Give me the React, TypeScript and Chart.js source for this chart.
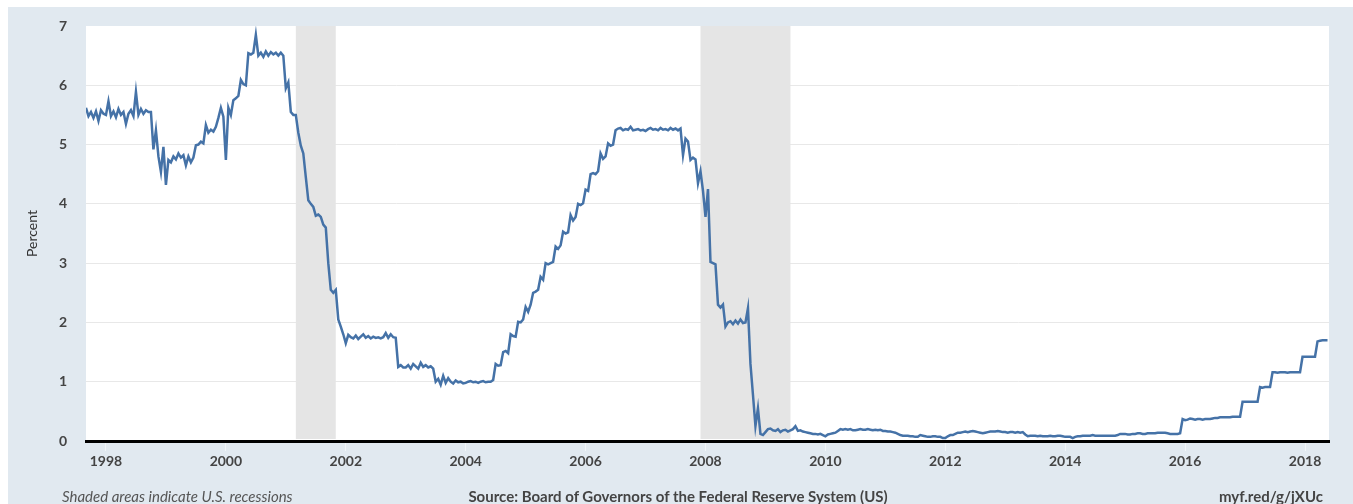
import React, { useEffect, useRef } from "react";
import { Chart, registerables } from "chart.js";

Chart.register(...registerables);

// Effective federal funds rate, semi-monthly readings (1st and 15th of each month)
const y1997 = [5.62, 5.48, 5.55, 5.45, 5.56, 5.40, 5.58, 5.52]; // Sep–Dec
const y1998 = [5.50, 5.73, 5.48, 5.56, 5.46, 5.60, 5.50, 5.55, 5.35, 5.52, 5.58, 5.48, 5.89, 5.50, 5.60, 5.52, 5.58, 5.55, 5.55, 4.92, 5.24, 4.80, 4.54, 4.96];
const y1999 = [4.32, 4.74, 4.70, 4.80, 4.75, 4.85, 4.78, 4.82, 4.65, 4.80, 4.70, 4.78, 4.99, 5.00, 5.05, 5.02, 5.33, 5.20, 5.25, 5.22, 5.30, 5.45, 5.62, 5.47];
const y2000 = [4.74, 5.62, 5.50, 5.75, 5.78, 5.82, 6.09, 6.02, 6.00, 6.54, 6.52, 6.55, 6.85, 6.50, 6.55, 6.48, 6.57, 6.50, 6.56, 6.52, 6.55, 6.50, 6.55, 6.50];
const y2001 = [5.95, 6.05, 5.55, 5.50, 5.50, 5.20, 4.98, 4.85, 4.45, 4.06, 4.00, 3.95, 3.80, 3.82, 3.78, 3.65, 3.60, 3.00, 2.55, 2.50, 2.55, 2.05, 1.93, 1.80];
const y2002 = [1.65, 1.79, 1.75, 1.73, 1.78, 1.72, 1.76, 1.80, 1.74, 1.77, 1.73, 1.76, 1.74, 1.75, 1.73, 1.75, 1.82, 1.74, 1.80, 1.75, 1.74, 1.25, 1.28, 1.24];
const y2003 = [1.24, 1.28, 1.22, 1.30, 1.26, 1.22, 1.32, 1.25, 1.28, 1.24, 1.26, 1.22, 1.00, 1.05, 0.95, 1.10, 0.98, 1.06, 1.00, 0.97, 1.02, 0.99, 1.00, 0.97];
const y2004 = [0.98, 1.00, 1.01, 0.99, 1.00, 0.98, 1.00, 1.01, 0.99, 1.00, 1.00, 1.03, 1.30, 1.27, 1.28, 1.50, 1.52, 1.48, 1.80, 1.77, 1.76, 2.01, 2.00, 2.05];
const y2005 = [2.26, 2.18, 2.30, 2.50, 2.52, 2.55, 2.77, 2.72, 3.00, 2.98, 3.00, 3.02, 3.28, 3.24, 3.30, 3.53, 3.50, 3.52, 3.81, 3.72, 3.78, 4.00, 3.98, 4.01];
const y2006 = [4.24, 4.22, 4.50, 4.52, 4.50, 4.55, 4.85, 4.76, 4.80, 5.02, 4.98, 5.00, 5.24, 5.27, 5.28, 5.24, 5.26, 5.25, 5.30, 5.24, 5.25, 5.26, 5.24, 5.25];
const y2007 = [5.23, 5.26, 5.28, 5.25, 5.26, 5.24, 5.28, 5.25, 5.26, 5.24, 5.28, 5.25, 5.27, 5.24, 5.27, 4.82, 5.10, 5.05, 4.74, 4.78, 4.75, 4.35, 4.55, 4.22];
const y2008 = [3.78, 4.25, 3.02, 3.00, 2.98, 2.30, 2.25, 2.30, 1.93, 2.00, 2.02, 1.97, 2.03, 1.98, 2.05, 1.99, 2.00, 2.24, 1.30, 0.78, 0.25, 0.55, 0.12, 0.10];
const y2009 = [0.15, 0.20, 0.21, 0.18, 0.17, 0.20, 0.15, 0.18, 0.19, 0.16, 0.18, 0.20, 0.25, 0.17, 0.18, 0.16, 0.15, 0.14, 0.13, 0.12, 0.12, 0.11, 0.12, 0.10];
const y2010 = [0.08, 0.11, 0.12, 0.13, 0.14, 0.17, 0.20, 0.19, 0.20, 0.19, 0.20, 0.18, 0.18, 0.19, 0.20, 0.19, 0.19, 0.20, 0.19, 0.18, 0.19, 0.18, 0.19, 0.17];
const y2011 = [0.17, 0.16, 0.16, 0.15, 0.14, 0.12, 0.10, 0.09, 0.09, 0.09, 0.08, 0.08, 0.07, 0.07, 0.10, 0.09, 0.08, 0.07, 0.07, 0.08, 0.08, 0.07, 0.07, 0.05];
const y2012 = [0.05, 0.08, 0.10, 0.10, 0.12, 0.14, 0.14, 0.15, 0.16, 0.15, 0.16, 0.17, 0.16, 0.15, 0.14, 0.13, 0.14, 0.15, 0.16, 0.16, 0.16, 0.17, 0.16, 0.15];
const y2013 = [0.15, 0.14, 0.15, 0.15, 0.14, 0.15, 0.14, 0.15, 0.11, 0.08, 0.09, 0.09, 0.09, 0.08, 0.09, 0.08, 0.08, 0.08, 0.09, 0.08, 0.08, 0.09, 0.09, 0.08];
const y2014 = [0.07, 0.07, 0.07, 0.05, 0.07, 0.08, 0.08, 0.09, 0.09, 0.09, 0.09, 0.10, 0.09, 0.09, 0.09, 0.09, 0.09, 0.09, 0.09, 0.09, 0.09, 0.10, 0.12, 0.12];
const y2015 = [0.12, 0.11, 0.11, 0.12, 0.12, 0.13, 0.13, 0.12, 0.12, 0.13, 0.13, 0.13, 0.13, 0.14, 0.14, 0.14, 0.14, 0.13, 0.12, 0.12, 0.12, 0.12, 0.13, 0.37];
const y2016 = [0.35, 0.36, 0.38, 0.37, 0.36, 0.37, 0.37, 0.36, 0.37, 0.37, 0.37, 0.38, 0.39, 0.39, 0.40, 0.40, 0.40, 0.40, 0.40, 0.41, 0.41, 0.41, 0.41, 0.66];
const y2017 = [0.66, 0.66, 0.66, 0.66, 0.66, 0.66, 0.91, 0.90, 0.91, 0.91, 0.91, 1.16, 1.16, 1.15, 1.16, 1.16, 1.16, 1.15, 1.16, 1.16, 1.16, 1.16, 1.16, 1.42];
const y2018 = [1.42, 1.42, 1.42, 1.42, 1.42, 1.68, 1.69, 1.70, 1.70, 1.70]; // Jan–mid May

// [year, first half-month slot, values]
const yearSeries: [number, number, number[]][] = [
  [1997, 16, y1997], [1998, 0, y1998], [1999, 0, y1999], [2000, 0, y2000],
  [2001, 0, y2001], [2002, 0, y2002], [2003, 0, y2003], [2004, 0, y2004],
  [2005, 0, y2005], [2006, 0, y2006], [2007, 0, y2007], [2008, 0, y2008],
  [2009, 0, y2009], [2010, 0, y2010], [2011, 0, y2011], [2012, 0, y2012],
  [2013, 0, y2013], [2014, 0, y2014], [2015, 0, y2015], [2016, 0, y2016],
  [2017, 0, y2017], [2018, 0, y2018],
];

const xTickYears = [1998, 2000, 2002, 2004, 2006, 2008, 2010, 2012, 2014, 2016, 2018];
const yTickValues = [0, 1, 2, 3, 4, 5, 6, 7];
const xStart = 1997.667;
const xEnd = 2018.4;

// US recessions (decimal years)
const recessionStarts = [2001.167, 2007.917];
const recessionEnds = [2001.833, 2009.417];

const LINE_COLOR = "#4572a7";
const BG = "#e1e9f0";
const FONT = "Lato, 'Open Sans', sans-serif";

function buildPoints() {
  const pts: { x: number; y: number }[] = [];
  for (const [yr, off, vals] of yearSeries) {
    vals.forEach((v, k) => pts.push({ x: yr + (off + k) / 24, y: v }));
  }
  return pts;
}

const framePlugin = {
  id: "frame",
  beforeDraw(chart: any) {
    const { ctx, chartArea: a, width, height } = chart;
    ctx.save();
    ctx.fillStyle = BG;
    ctx.fillRect(0, 0, width, height);
    ctx.fillStyle = "#ffffff";
    ctx.fillRect(a.left, a.top, a.right - a.left, a.bottom - a.top);
    ctx.translate(24, (a.top + a.bottom) / 2);
    ctx.rotate(-Math.PI / 2);
    ctx.fillStyle = "#333333";
    ctx.font = `14px ${FONT}`;
    ctx.textAlign = "center";
    ctx.textBaseline = "middle";
    ctx.fillText("Percent", 0, 0);
    ctx.restore();
  },
  beforeDatasetsDraw(chart: any) {
    const { ctx, chartArea: a } = chart;
    const x = chart.scales.x;
    ctx.save();
    ctx.fillStyle = "#e5e5e5";
    recessionStarts.forEach((s, i) => {
      const x0 = x.getPixelForValue(s);
      const x1 = x.getPixelForValue(recessionEnds[i]);
      ctx.fillRect(x0, a.top, x1 - x0, a.bottom - a.top - 2);
    });
    ctx.restore();
  },
};

function FredChart() {
  const ref = useRef<HTMLCanvasElement | null>(null);
  useEffect(() => {
    if (!ref.current) return;
    const chart = new Chart(ref.current, {
      type: "line",
      data: {
        datasets: [
          {
            data: buildPoints(),
            borderColor: LINE_COLOR,
            borderWidth: 2.5,
            pointRadius: 0,
            tension: 0,
            fill: false,
          },
        ],
      },
      options: {
        animation: false,
        responsive: false,
        devicePixelRatio: 1,
        layout: { padding: { top: 19, right: 24, left: 0, bottom: 0 } },
        plugins: { legend: { display: false }, tooltip: { enabled: false } },
        scales: {
          x: {
            type: "linear",
            min: xStart,
            max: xEnd,
            afterBuildTicks: (scale: any) => {
              scale.ticks = xTickYears.map((v) => ({ value: v }));
            },
            afterFit: (scale: any) => {
              scale.height = 63;
            },
            grid: {
              drawOnChartArea: false,
              drawTicks: true,
              tickLength: 10,
              color: "#f1f5f8",
              lineWidth: 1,
            },
            border: { display: true, color: "#000000", width: 3 },
            ticks: {
              autoSkip: false,
              maxRotation: 0,
              padding: 2,
              color: "#444444",
              font: { family: FONT, size: 14, weight: "bold" },
              callback: (v: any) => String(v),
            },
          },
          y: {
            min: 0,
            max: 7,
            afterBuildTicks: (scale: any) => {
              scale.ticks = yTickValues.map((v) => ({ value: v }));
            },
            afterFit: (scale: any) => {
              scale.width = 78;
            },
            grid: {
              drawTicks: true,
              tickLength: 19,
              tickColor: "rgba(0,0,0,0)",
              color: (c: any) =>
                c.tick && (c.tick.value === 0 || c.tick.value === 7) ? "rgba(0,0,0,0)" : "#e8e8e8",
              lineWidth: 1,
            },
            border: { display: false },
            ticks: {
              padding: 0,
              color: "#444444",
              font: { family: FONT, size: 14, weight: "bold" },
              callback: (v: any) => String(v),
            },
          },
        },
      },
      plugins: [framePlugin],
    });
    return () => chart.destroy();
  }, []);
  return <canvas ref={ref} width={1345} height={497} style={{ display: "block", width: 1345, height: 497 }} />;
}

export default function App() {
  const note: React.CSSProperties = {
    position: "absolute",
    top: 480,
    fontFamily: FONT,
    fontSize: 15,
    lineHeight: "18px",
    whiteSpace: "nowrap",
  };
  return (
    <div
      style={{
        position: "fixed",
        left: 8,
        top: 7,
        width: 1345,
        height: 497,
        overflow: "hidden",
        background: BG,
      }}
    >
      <FredChart />
      <div style={{ ...note, left: 54, fontStyle: "italic", color: "#555555" }}>
        Shaded areas indicate U.S. recessions
      </div>
      <div style={{ ...note, left: 670, transform: "translateX(-50%)", fontWeight: "bold", color: "#444444" }}>
        Source: Board of Governors of the Federal Reserve System (US)
      </div>
      <div style={{ ...note, right: 30, fontWeight: "bold", color: "#444444" }}>myf.red/g/jXUc</div>
    </div>
  );
}
